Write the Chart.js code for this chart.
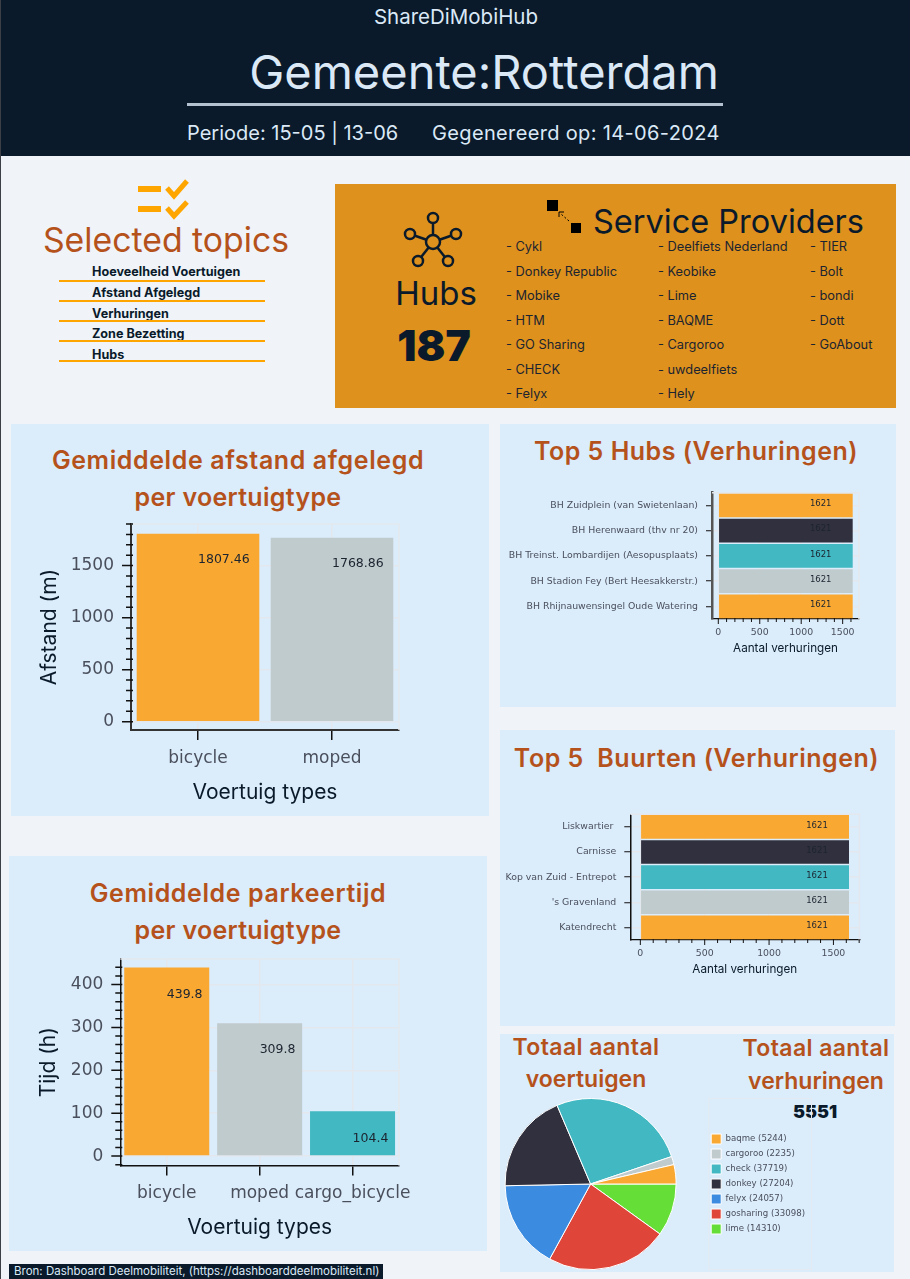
<!DOCTYPE html>
<html>
<head>
<meta charset="utf-8">
<title>ShareDiMobiHub</title>
<script src="https://cdn.jsdelivr.net/npm/chart.js@4/dist/chart.umd.min.js"></script>
<style>
  html, body { margin: 0; padding: 0; background: #f0f4f9; }
  #page { position: relative; width: 910px; height: 1279px; overflow: hidden; font-family: Inter, "Noto Sans", sans-serif; color: #0a1a2a; }
  #edge { position: absolute; left: 0; top: 0; width: 1px; height: 1279px; background: #3c4046; }
  .box { position: absolute; }
  .panel { position: absolute; background: #dbecfb; }
  .t { position: absolute; white-space: pre; line-height: 1; transform: translateY(-50%); }
  .c { transform: translate(-50%, -50%); }
  .head { color: #dbe9f7; }
  .rust { color: #b5521b; font-weight: 600; letter-spacing: 0.6px; }
  .small { font-size: 23px; letter-spacing: 0.4px; }
  .topic { font-size: 12.6px; font-weight: 700; left: 92px; }
  .prov { font-size: 12.8px; color: #1b2430; }
  canvas { position: absolute; }
</style>
</head>
<body>
<div id="page">
  <div class="box" style="left:0;top:0;width:910px;height:156px;background:#0a1a2a"></div>
  <div id="edge"></div>
  <div class="t c head" style="left:456px;top:17px;font-size:20.5px">ShareDiMobiHub</div>
  <div class="t c head" style="left:484px;top:71px;font-size:47px">Gemeente:Rotterdam</div>
  <div class="box" style="left:187px;top:103px;width:536px;height:3px;background:#b4c2cf"></div>
  <div class="t head" style="left:187px;top:133px;font-size:20px">Periode: 15-05 | 13-06</div>
  <div class="t head" style="left:432px;top:133px;font-size:20px;letter-spacing:0.35px">Gegenereerd op: 14-06-2024</div>

  <svg class="box" style="left:130px;top:175px" width="70" height="48" viewBox="130 175 70 48">
    <rect x="138" y="186" width="23" height="6" fill="#ffa500"/>
    <rect x="138" y="206" width="23" height="6" fill="#ffa500"/>
    <polyline points="167,188 174,196 187,181" fill="none" stroke="#ffa500" stroke-width="5"/>
    <polyline points="167,208 174,216 187,202" fill="none" stroke="#ffa500" stroke-width="5"/>
  </svg>
  <div class="t c" style="left:166px;top:240px;font-size:33.8px;color:#b5521b">Selected topics</div>
  <div class="t topic" style="top:272px">Hoeveelheid Voertuigen</div>
  <div class="box" style="left:59px;top:280px;width:206px;height:2px;background:#ffa500"></div>
  <div class="t topic" style="top:293px">Afstand Afgelegd</div>
  <div class="box" style="left:59px;top:300px;width:206px;height:2px;background:#ffa500"></div>
  <div class="t topic" style="top:314px">Verhuringen</div>
  <div class="box" style="left:59px;top:320px;width:206px;height:2px;background:#ffa500"></div>
  <div class="t topic" style="top:334px">Zone Bezetting</div>
  <div class="box" style="left:59px;top:340px;width:206px;height:2px;background:#ffa500"></div>
  <div class="t topic" style="top:355px">Hubs</div>
  <div class="box" style="left:59px;top:360px;width:206px;height:2px;background:#ffa500"></div>

  <div class="box" style="left:335px;top:184px;width:561px;height:224px;background:#de911d"></div>
  <svg class="box" style="left:400px;top:208px" width="70" height="62" viewBox="400 208 70 62" fill="none" stroke="#0a1a2a" stroke-width="2.5">
    <line x1="433" y1="242" x2="433" y2="218"/><line x1="433" y1="242" x2="410" y2="234"/>
    <line x1="433" y1="242" x2="456" y2="234"/><line x1="433" y1="242" x2="418" y2="261"/>
    <line x1="433" y1="242" x2="448" y2="261"/>
    <circle cx="433" cy="242" r="7" fill="#de911d"/>
    <circle cx="433" cy="218" r="5" fill="#de911d"/><circle cx="410" cy="234" r="5" fill="#de911d"/>
    <circle cx="456" cy="234" r="5" fill="#de911d"/><circle cx="418" cy="261" r="5" fill="#de911d"/>
    <circle cx="448" cy="261" r="5" fill="#de911d"/>
  </svg>
  <div class="t c" style="left:436px;top:293px;font-size:33px">Hubs</div>
  <div class="t c" style="left:434px;top:346px;font-size:42.5px;font-weight:900">187</div>
  <svg class="box" style="left:540px;top:195px" width="48" height="42" viewBox="540 195 48 42" fill="#000">
    <rect x="547" y="200" width="11" height="11"/><rect x="571" y="223" width="10" height="10"/>
    <line x1="569" y1="221" x2="561" y2="214" stroke="#000" stroke-dasharray="2 2"/>
    <polyline points="559,217 559,212 564,212" fill="none" stroke="#000"/>
  </svg>
  <div class="t" style="left:593px;top:222px;font-size:32.5px">Service Providers</div>
  <div id="providers"></div>

  <div class="panel" style="left:11px;top:424px;width:478px;height:392px"></div>
  <div class="t c rust" style="left:238px;top:460px;font-size:25px">Gemiddelde afstand afgelegd</div>
  <div class="t c rust" style="left:238px;top:497px;font-size:25px;letter-spacing:0.3px">per voertuigtype</div>

  <div class="panel" style="left:9px;top:856px;width:478px;height:395px"></div>
  <div class="t c rust" style="left:238px;top:893px;font-size:25px">Gemiddelde parkeertijd</div>
  <div class="t c rust" style="left:238px;top:930px;font-size:25px;letter-spacing:0.3px">per voertuigtype</div>

  <div class="panel" style="left:500px;top:424px;width:396px;height:283px"></div>
  <div class="t c rust" style="left:696px;top:451px;font-size:25px;letter-spacing:0.5px">Top 5 Hubs (Verhuringen)</div>

  <div class="panel" style="left:500px;top:730px;width:395px;height:296px"></div>
  <div class="t c rust" style="left:696.5px;top:758px;font-size:25px;letter-spacing:0.5px">Top 5  Buurten (Verhuringen)</div>

  <div class="panel" style="left:500px;top:1034px;width:394px;height:238px"></div>
  <div class="t c rust small" style="left:586px;top:1047px">Totaal aantal</div>
  <div class="t c rust small" style="left:586px;top:1079px;letter-spacing:0">voertuigen</div>
  <div class="t c rust small" style="left:816px;top:1048px">Totaal aantal</div>
  <div class="t c rust small" style="left:816px;top:1081px;letter-spacing:0">verhuringen</div>
  <div class="t c" style="left:815px;top:1112px;font-size:18px;font-weight:900">5551</div>

  <canvas id="afstandChart" width="478" height="306" style="left:11px;top:510px"></canvas>
  <canvas id="parkeerChart" width="478" height="306" style="left:9px;top:945px"></canvas>
  <canvas id="hubsChart" width="396" height="227" style="left:500px;top:480px"></canvas>
  <canvas id="buurtenChart" width="395" height="226" style="left:500px;top:800px"></canvas>
  <canvas id="pieChart" width="340" height="172" style="left:475px;top:1098px"></canvas>

  <div class="box" style="left:9px;top:1264px;width:374px;height:15px;background:#0a1a2a"></div>
  <div class="t" style="left:14px;top:1272px;font-size:11.5px;color:#dbe9f7">Bron: Dashboard Deelmobiliteit, (https://dashboarddeelmobiliteit.nl)</div>
</div>

<script>
const providerColumns = [
    ['Cykl', 'Donkey Republic', 'Mobike', 'HTM', 'GO Sharing', 'CHECK', 'Felyx'],
    ['Deelfiets Nederland', 'Keobike', 'Lime', 'BAQME', 'Cargoroo', 'uwdeelfiets', 'Hely'],
    ['TIER', 'Bolt', 'bondi', 'Dott', 'GoAbout']
]

const afstandTypes = ['bicycle', 'moped']
const afstandValues = [1807.46, 1768.86]
const afstandTicks = [0, 500, 1000, 1500]

const parkeerTypes = ['bicycle', 'moped', 'cargo_bicycle']
const parkeerValues = [439.8, 309.8, 104.4]
const parkeerTicks = [0, 100, 200, 300, 400]

const hubNames = ['BH Zuidplein (van Swietenlaan)', 'BH Herenwaard (thv nr 20)', 'BH Treinst. Lombardijen (Aesopusplaats)', 'BH Stadion Fey (Bert Heesakkerstr.)', 'BH Rhijnauwensingel Oude Watering']
const hubValues = [1621, 1621, 1621, 1621, 1621]

const buurtNames = ['Liskwartier ', 'Carnisse', 'Kop van Zuid - Entrepot', "'s Gravenland", 'Katendrecht']
const buurtValues = [1621, 1621, 1621, 1621, 1621]
const verhuurTicks = [0, 500, 1000, 1500]

const pieNames = ['baqme', 'cargoroo', 'check', 'donkey', 'felyx', 'gosharing', 'lime']
const pieValues = [5244, 2235, 37719, 27204, 24057, 33098, 14310]
const pieColours = ['#f9a832', '#c0cbcd', '#41b8c2', '#31303e', '#3b8ce0', '#e0453a', '#65df38']

const barColours = ['#f9a832', '#c0cbcd', '#41b8c2']
const rowColours = ['#f9a832', '#31303e', '#41b8c2', '#c0cbcd', '#f9a832']

const rowTops = [247, 272, 296, 321, 345, 370, 394]
const columnLefts = [506, 658, 810]
const providerBox = document.getElementById('providers')
providerColumns.forEach((names, col) => {
    names.forEach((name, row) => {
        const el = document.createElement('div')
        el.className = 't prov'
        el.style.left = columnLefts[col] + 'px'
        el.style.top = rowTops[row] + 'px'
        el.textContent = '- ' + name
        providerBox.appendChild(el)
    })
})

const gridColour = '#e3e7ee'
const tickText = '#4a4f5c'
const tickFont = 'DejaVu Sans'
const titleFont = 'Inter'

// short ticks between the labelled ones, and the pale top/right frame
const axisDetail = {
    id: 'axisDetail',
    afterDatasetsDraw(chart, args, opts) {
        const ctx = chart.ctx
        const area = chart.chartArea
        const scale = chart.scales[opts.axis]
        ctx.save()
        ctx.strokeStyle = gridColour
        ctx.lineWidth = 1.5
        ctx.beginPath()
        ctx.moveTo(area.left, area.top)
        ctx.lineTo(area.right, area.top)
        ctx.lineTo(area.right, area.bottom)
        ctx.stroke()
        ctx.strokeStyle = '#111'
        ctx.lineWidth = opts.width
        ctx.beginPath()
        for (let v = Math.ceil(scale.min / opts.minor) * opts.minor; v <= scale.max; v += opts.minor) {
            const p = scale.getPixelForValue(v)
            const len = v % opts.major === 0 ? opts.majorLen : opts.minorLen
            if (opts.axis === 'y') {
                ctx.moveTo(area.left + opts.inner, p)
                ctx.lineTo(area.left - len, p)
            } else {
                ctx.moveTo(p, area.bottom - opts.inner)
                ctx.lineTo(p, area.bottom + len)
            }
        }
        ctx.stroke()
        ctx.restore()
    }
}

const valueLabels = {
    id: 'valueLabels',
    afterDatasetsDraw(chart, args, opts) {
        const ctx = chart.ctx
        const horizontal = chart.options.indexAxis === 'y'
        ctx.save()
        ctx.font = opts.size + 'px "' + tickFont + '"'
        ctx.fillStyle = '#1c2430'
        ctx.textBaseline = 'middle'
        ctx.textAlign = horizontal ? 'center' : 'left'
        chart.getDatasetMeta(0).data.forEach((bar, i) => {
            const text = String(chart.data.datasets[0].data[i])
            if (horizontal) ctx.fillText(text, bar.x - opts.dx, bar.y + opts.dy)
            else ctx.fillText(text, bar.x, bar.y + opts.dy)
        })
        ctx.restore()
    }
}

// fixed axis thickness, and no extra room kept for half a tick label
function fixAxis(scale, size) {
    if (scale.isHorizontal()) scale.height = size
    else scale.width = size
    scale.paddingTop = 0
    scale.paddingBottom = 0
    scale.paddingLeft = 0
    scale.paddingRight = 0
}

function barChart(id, labels, values, colours, tickValues, cfg) {
    const horizontal = cfg.horizontal
    const valueScale = {
        min: cfg.min,
        max: cfg.max,
        afterBuildTicks: (s) => { s.ticks = tickValues.map((v) => ({ value: v })) },
        grid: { color: gridColour, lineWidth: 1.5, tickLength: cfg.tickLen, tickColor: 'rgba(0,0,0,0)' },
        border: { color: cfg.valueAxis, width: cfg.valueAxisWidth },
        ticks: { autoSkip: false, color: tickText, padding: cfg.valuePad, maxRotation: 0, callback: (v) => String(v),
            font: { family: tickFont, size: cfg.valueSize } },
        title: { display: true, text: cfg.valueTitle, color: '#0a1a2a', font: { family: titleFont, size: cfg.titleSize } },
        afterFit: (s) => fixAxis(s, horizontal ? cfg.xHeight : cfg.yWidth)
    }
    const indexScale = {
        grid: { offset: false, color: gridColour, lineWidth: 1.5, tickLength: cfg.indexTick, tickColor: '#111', tickWidth: cfg.tickWidth },
        border: { color: cfg.indexAxis, width: cfg.indexAxisWidth },
        ticks: { autoSkip: false, color: tickText, padding: cfg.indexPad, maxRotation: 0, minRotation: 0,
            font: { family: tickFont, size: cfg.indexSize } },
        afterFit: (s) => fixAxis(s, horizontal ? cfg.yWidth : cfg.xHeight)
    }
    if (!horizontal) {
        indexScale.title = { display: true, text: cfg.indexTitle, color: '#0a1a2a', font: { family: titleFont, size: cfg.titleSize } }
    }
    return new Chart(document.getElementById(id), {
        type: 'bar',
        data: {
            labels: labels,
            datasets: [{
                data: values,
                backgroundColor: colours,
                barPercentage: cfg.barPct,
                categoryPercentage: 1
            }]
        },
        options: {
            indexAxis: horizontal ? 'y' : 'x',
            responsive: false,
            animation: false,
            devicePixelRatio: 1,
            layout: { padding: cfg.padding },
            plugins: {
                legend: { display: false },
                tooltip: { enabled: false },
                axisDetail: { axis: horizontal ? 'x' : 'y', major: cfg.major, minor: cfg.minor, majorLen: cfg.tickLen, minorLen: cfg.minorLen, inner: cfg.inner, width: cfg.tickWidth },
                valueLabels: { size: cfg.labelSize, dx: cfg.labelDx, dy: cfg.labelDy }
            },
            scales: horizontal ? { x: valueScale, y: indexScale } : { x: indexScale, y: valueScale }
        },
        plugins: [axisDetail, valueLabels]
    })
}

barChart('afstandChart', afstandTypes, afstandValues, barColours, afstandTicks, {
    min: -80, max: 1900, major: 500, minor: 100, tickLen: 9, minorLen: 5, inner: 2, tickWidth: 1.5,
    valueAxis: '#333', valueAxisWidth: 2, indexAxis: '#333', indexAxisWidth: 2,
    valueSize: 17, indexSize: 17, valuePad: 8, indexPad: 8, indexTick: 10, titleSize: 21,
    valueTitle: 'Afstand (m)', indexTitle: 'Voertuig types', barPct: 0.915,
    padding: { left: 22, right: 90, top: 14, bottom: 7 }, yWidth: 98, xHeight: 79,
    labelSize: 12.5, labelDx: 0, labelDy: 26
})

barChart('parkeerChart', parkeerTypes, parkeerValues, barColours, parkeerTicks, {
    min: -21.7, max: 459.5, major: 100, minor: 20, tickLen: 9, minorLen: 5, inner: 2, tickWidth: 1.5,
    valueAxis: '#111', valueAxisWidth: 1.5, indexAxis: '#111', indexAxisWidth: 1.5,
    valueSize: 17, indexSize: 17, valuePad: 8, indexPad: 8, indexTick: 10, titleSize: 21,
    valueTitle: 'Tijd (h)', indexTitle: 'Voertuig types', barPct: 0.915,
    padding: { left: 22.6, right: 88, top: 14, bottom: 6.6 }, yWidth: 88.7, xHeight: 79,
    labelSize: 12.5, labelDx: 0, labelDy: 27
})

barChart('hubsChart', hubNames, hubValues, rowColours, verhuurTicks, {
    horizontal: true, min: -76, max: 1697, major: 500, minor: 100, tickLen: 5, minorLen: 3, inner: 1, tickWidth: 1,
    valueAxis: '#111', valueAxisWidth: 1.2, indexAxis: '#555', indexAxisWidth: 2.5,
    valueSize: 9.35, indexSize: 9.35, valuePad: 3, indexPad: 8, indexTick: 6, titleSize: 11.7,
    valueTitle: 'Aantal verhuringen', barPct: 0.94,
    padding: { left: 0, right: 37, top: 12.7, bottom: 47.4 }, yWidth: 212, xHeight: 40.6,
    labelSize: 8.5, labelDx: 32, labelDy: -1.5
})

barChart('buurtenChart', buurtNames, buurtValues, rowColours, verhuurTicks, {
    horizontal: true, min: -78, max: 1701, major: 500, minor: 100, tickLen: 5, minorLen: 3, inner: 1, tickWidth: 1,
    valueAxis: '#111', valueAxisWidth: 1.2, indexAxis: '#111', indexAxisWidth: 1.5,
    valueSize: 9.35, indexSize: 9.35, valuePad: 3, indexPad: 8, indexTick: 6, titleSize: 11.7,
    valueTitle: 'Aantal verhuringen', barPct: 0.94,
    padding: { left: 0, right: 35.7, top: 14.3, bottom: 45.4 }, yWidth: 130.3, xHeight: 40.6,
    labelSize: 8.5, labelDx: 32, labelDy: -1.5
})

// pale frame around the pie legend
const legendFrame = {
    id: 'legendFrame',
    afterDraw(chart) {
        const lg = chart.legend
        const ctx = chart.ctx
        ctx.save()
        ctx.strokeStyle = '#e3eaf2'
        ctx.strokeRect(lg.left + 2.5, lg.top + 0.5, lg.width - 6, lg.height - 1)
        ctx.restore()
    }
}

// matplotlib runs anti-clockwise from east: reverse the order and start at east
new Chart(document.getElementById('pieChart'), {
    type: 'pie',
    data: {
        labels: pieNames.map((name, i) => name + ' (' + pieValues[i] + ')').reverse(),
        datasets: [{
            data: [...pieValues].reverse(),
            backgroundColor: [...pieColours].reverse(),
            borderColor: '#ffffff',
            borderWidth: 1
        }]
    },
    options: {
        responsive: false,
        animation: false,
        devicePixelRatio: 1,
        rotation: 90,
        layout: { padding: 0 },
        plugins: {
            tooltip: { enabled: false },
            legend: {
                position: 'right',
                labels: {
                    boxWidth: 10,
                    boxHeight: 10,
                    padding: 5,
                    color: tickText,
                    font: { family: tickFont, size: 8.6 },
                    sort: (a, b) => b.index - a.index
                }
            }
        }
    },
    plugins: [legendFrame]
})
</script>
</body>
</html>
